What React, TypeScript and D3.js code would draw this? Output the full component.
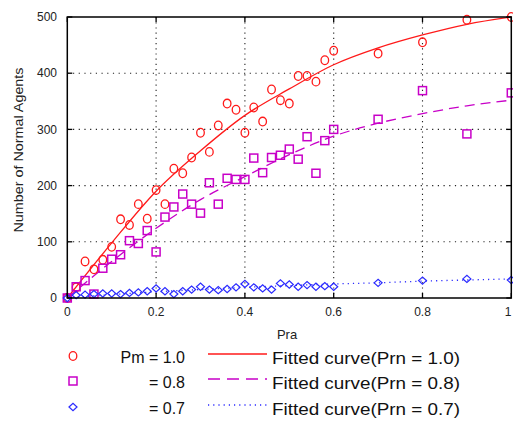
import React from "react";
import * as d3 from "d3";

// Pra values where agents were counted
const pra = [
  0, 0.02, 0.04, 0.06, 0.08, 0.1, 0.12, 0.14, 0.16, 0.18, 0.2, 0.22, 0.24, 0.26,
  0.28, 0.3, 0.32, 0.34, 0.36, 0.38, 0.4, 0.42, 0.44, 0.46, 0.48, 0.5, 0.52,
  0.54, 0.56, 0.58, 0.6, 0.7, 0.8, 0.9, 1.0,
];
// number of normal agents, Pm = 1.0 / 0.8 / 0.7
const agentsPm10 = [
  0, 19, 65, 51, 68, 91, 140, 130, 167, 141, 192, 167, 230, 222, 250, 294, 260,
  307, 346, 335, 294, 339, 314, 371, 352, 346, 395, 395, 385, 423, 440, 435,
  455, 495, 500,
];
const agentsPm08 = [
  0, 20, 31, 7, 53, 69, 77, 102, 97, 120, 82, 144, 162, 185, 167, 151, 205, 167,
  213, 211, 211, 249, 223, 250, 254, 265, 247, 287, 222, 280, 300, 318, 369,
  292, 365,
];
const agentsPm07 = [
  0, 5, 6, 7, 8, 8, 7, 9, 10, 12, 17, 12, 7, 12, 15, 20, 15, 14, 16, 19, 25, 19,
  17, 15, 26, 24, 20, 23, 20, 21, 20, 27, 31, 34, 32,
];

// fitted curves
const fitPra = [0, 0.1, 0.2, 0.3, 0.4, 0.5, 0.6, 0.7, 0.8, 0.9, 1.0];
const fitPm10 = [0, 98, 190, 262, 325, 372, 415, 445, 468, 487, 500];
const fitPm08 = [0, 65, 124, 175, 216, 255, 288, 311, 328, 342, 352];
const fitPm07 = [0, 6, 11, 15, 19, 22, 25, 27, 30, 32, 34];

const xTicks = [0, 0.2, 0.4, 0.6, 0.8, 1];
const xTickLabels = ["0", "0.2", "0.4", "0.6", "0.8", "1"];
const yTicks = [0, 100, 200, 300, 400, 500];
const yTickLabels = ["0", "100", "200", "300", "400", "500"];

const legendMarks = ["Pm = 1.0", "= 0.8", "= 0.7"];
const legendFits = [
  "Fitted curve(Prn = 1.0)",
  "Fitted curve(Prn = 0.8)",
  "Fitted curve(Prn = 0.7)",
];

const RED = "#ff1a1a";
const MAG = "#c800c8";
const BLUE = "#2a2aff";
const FONT = "'Liberation Sans', Arial, sans-serif";

const W = 513;
const H = 421;
const m = { left: 67.3, right: 511.3, top: 17, bottom: 298 };

function Marker({ kind, cx, cy, color }: { kind: string; cx: number; cy: number; color: string }) {
  if (kind === "circle")
    return <ellipse cx={cx} cy={cy} rx={3.8} ry={4.3} fill="none" stroke={color} strokeWidth={1.3} />;
  if (kind === "square")
    return <rect x={cx - 4} y={cy - 4} width={8} height={8} fill="none" stroke={color} strokeWidth={1.5} />;
  return (
    <path
      d={`M${cx - 4},${cy}L${cx},${cy - 3.6}L${cx + 4},${cy}L${cx},${cy + 3.6}Z`}
      fill="none"
      stroke={color}
      strokeWidth={1.2}
    />
  );
}

export default function App() {
  const x = d3.scaleLinear().domain([0, 1]).range([m.left, m.right]);
  const y = d3.scaleLinear().domain([0, 500]).range([m.bottom, m.top]);

  const line = d3
    .line<number>()
    .x((_, i) => x(fitPra[i]))
    .y((d) => y(d))
    .curve(d3.curveMonotoneX);

  const series = [
    { data: agentsPm10, fit: fitPm10, color: RED, kind: "circle", dash: undefined },
    { data: agentsPm08, fit: fitPm08, color: MAG, kind: "square", dash: "10,6" },
    { data: agentsPm07, fit: fitPm07, color: BLUE, kind: "diamond", dash: "1.2,4" },
  ];

  const legendY = [356, 381, 407];

  return (
    <div style={{ position: "absolute", left: 0, top: 0 }}>
      <svg width={W} height={H} style={{ display: "block", background: "#fff" }} fontFamily={FONT}>
        {/* grid */}
        {xTicks.slice(1, -1).map((t) => (
          <line key={"gx" + t} x1={x(t)} x2={x(t)} y1={m.top} y2={m.bottom}
            stroke="#222" strokeWidth={1.1} strokeDasharray="1.2,4" />
        ))}
        {yTicks.slice(1, -1).map((t) => (
          <line key={"gy" + t} x1={m.left} x2={m.right} y1={y(t)} y2={y(t)}
            stroke="#222" strokeWidth={1.1} strokeDasharray="1.2,4.5" />
        ))}

        {/* fitted curves */}
        {series.map((s, i) => (
          <path key={"fit" + i} d={line(s.fit) || ""} fill="none" stroke={s.color}
            strokeWidth={1.3} strokeDasharray={s.dash} />
        ))}

        {/* data points */}
        {series.map((s, i) =>
          s.data.map((v, j) => (
            <Marker key={`p${i}-${j}`} kind={s.kind} cx={x(pra[j])} cy={y(v)} color={s.color} />
          ))
        )}

        {/* box and ticks */}
        <rect x={m.left} y={m.top} width={m.right - m.left} height={m.bottom - m.top}
          fill="none" stroke="#000" strokeWidth={1.5} />
        {xTicks.map((t) => (
          <g key={"tx" + t}>
            <line x1={x(t)} x2={x(t)} y1={m.bottom} y2={m.bottom - 5} stroke="#000" strokeWidth={1.3} />
            <line x1={x(t)} x2={x(t)} y1={m.top} y2={m.top + 5} stroke="#000" strokeWidth={1.3} />
          </g>
        ))}
        {yTicks.map((t) => (
          <g key={"ty" + t}>
            <line x1={m.left} x2={m.left + 5} y1={y(t)} y2={y(t)} stroke="#000" strokeWidth={1.3} />
            <line x1={m.right} x2={m.right - 5} y1={y(t)} y2={y(t)} stroke="#000" strokeWidth={1.3} />
          </g>
        ))}

        {/* tick labels */}
        {xTicks.map((t, i) => (
          <text key={"lx" + t} x={Math.min(x(t), 508)} y={316} textAnchor="middle" fontSize={12} fill="#222">
            {xTickLabels[i]}
          </text>
        ))}
        {yTicks.map((t, i) => (
          <text key={"ly" + t} x={57} y={y(t)} dy="0.35em" textAnchor="end" fontSize={12} fill="#222">
            {yTickLabels[i]}
          </text>
        ))}

        {/* axis labels */}
        <text x={287} y={339} textAnchor="middle" fontSize={13} fill="#222">Pra</text>
        <text transform={`translate(23,150) rotate(-90)`} textAnchor="middle" fontSize={13}
          fill="#222" textLength={165} lengthAdjust="spacingAndGlyphs">
          Number of Normal Agents
        </text>

        {/* legend */}
        {series.map((s, i) => (
          <g key={"lg" + i}>
            <Marker kind={s.kind} cx={73} cy={legendY[i]} color={s.color} />
            <text x={185} y={legendY[i] + 7} textAnchor="end" fontSize={16} fill="#111">
              {legendMarks[i]}
            </text>
            <line x1={208} x2={267} y1={legendY[i] - 2} y2={legendY[i] - 2} stroke={s.color}
              strokeWidth={1.3} strokeDasharray={s.dash === "10,6" ? "12,7" : s.dash} />
            <text x={272} y={legendY[i] + 8} fontSize={16} fill="#111" textLength={188}
              lengthAdjust="spacingAndGlyphs">
              {legendFits[i]}
            </text>
          </g>
        ))}
      </svg>
    </div>
  );
}
